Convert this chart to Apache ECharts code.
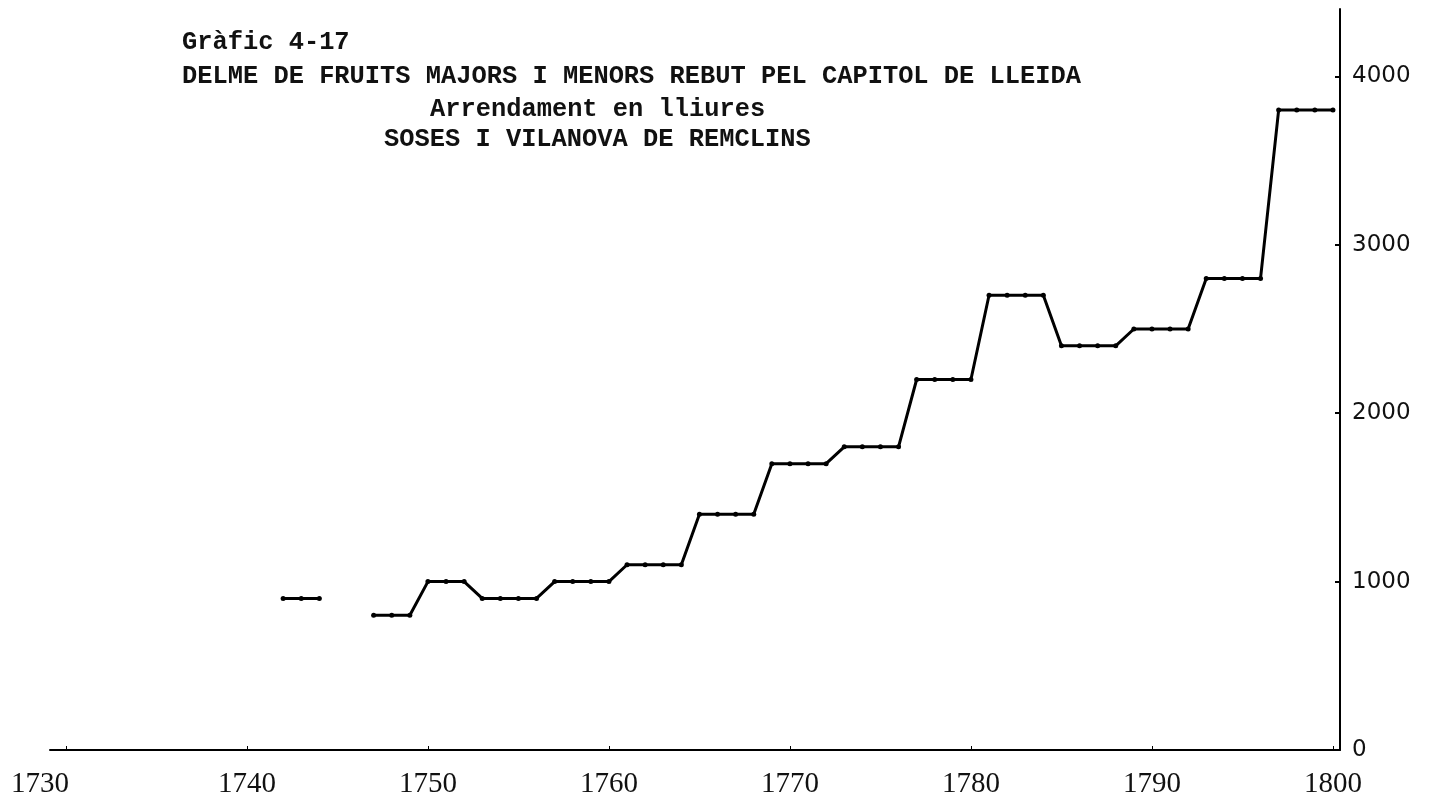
<!DOCTYPE html>
<html>
<head>
<meta charset="utf-8">
<script src="https://cdn.jsdelivr.net/npm/echarts@6/dist/echarts.min.js"></script>
<style>
html,body{margin:0;padding:0;background:#fff;}
#chart{width:1443px;height:800px;}
</style>
</head>
<body>
<div id="chart"></div>
<script>
// ---- data ----
const titleLines = [
  "Gràfic 4-17",
  "DELME DE FRUITS MAJORS I MENORS REBUT PEL CAPITOL DE LLEIDA",
  "Arrendament en lliures",
  "SOSES I VILANOVA DE REMCLINS"
];
const xTickYears = [1730, 1740, 1750, 1760, 1770, 1780, 1790, 1800];
const yTickValues = [0, 1000, 2000, 3000, 4000];
const years = [1742,1743,1744,1745,1746,1747,1748,1749,1750,1751,1752,
  1753,1754,1755,1756,1757,1758,1759,1760,1761,1762,1763,1764,
  1765,1766,1767,1768,1769,1770,1771,1772,1773,1774,1775,1776,
  1777,1778,1779,1780,1781,1782,1783,1784,1785,1786,1787,1788,
  1789,1790,1791,1792,1793,1794,1795,1796,1797,1798,1799,1800];
const rentValues = [900,900,900,null,null,800,800,800,1000,1000,1000,
  900,900,900,900,1000,1000,1000,1000,1100,1100,1100,1100,
  1400,1400,1400,1400,1700,1700,1700,1700,1800,1800,1800,1800,
  2200,2200,2200,2200,2700,2700,2700,2700,2400,2400,2400,2400,
  2500,2500,2500,2500,2800,2800,2800,2800,3800,3800,3800,3800];

const seriesData = years.map((y, i) => [y, rentValues[i]]);

const chart = echarts.init(document.getElementById('chart'), null, {renderer: 'canvas'});
const monoFont = '"Liberation Mono", "DejaVu Sans Mono", monospace';
const titleFont = 'bold 25.4px ' + monoFont;

const option = {
  backgroundColor: '#ffffff',
  animation: false,
  grid: {left: 50, right: 103, top: 9, bottom: 50, containLabel: false},
  graphic: [
    {type: 'text', left: 182, top: 30, style: {text: titleLines[0], font: titleFont, fill: '#111'}},
    {type: 'text', left: 182, top: 64, style: {text: titleLines[1], font: titleFont, fill: '#111'}},
    {type: 'text', left: 430, top: 97, style: {text: titleLines[2], font: titleFont, fill: '#111'}},
    {type: 'text', left: 384, top: 127, style: {text: titleLines[3], font: titleFont, fill: '#111'}}
  ],
  xAxis: {
    type: 'value',
    min: 1729.12,
    max: 1800.39,
    splitLine: {show: false},
    axisLine: {show: true, onZero: false, lineStyle: {color: '#000', width: 2}},
    axisTick: {show: true, inside: true, length: 4, customValues: xTickYears, lineStyle: {color: '#000', width: 1}},
    axisLabel: {
      customValues: xTickYears,
      color: '#111',
      fontFamily: '"Liberation Serif", "DejaVu Serif", serif',
      fontSize: 29,
      margin: 20,
      formatter: v => {
        const y = Math.round(v);
        return y === 1730 ? '{shift|' + y + '}' : String(y);
      },
      rich: {
        shift: {
          fontFamily: '"Liberation Serif", "DejaVu Serif", serif',
          fontSize: 29,
          color: '#111',
          padding: [0, 52, 0, 0]
        }
      }
    }
  },
  yAxis: {
    type: 'value',
    position: 'right',
    min: 0,
    max: 4400,
    splitLine: {show: false},
    axisLine: {show: true, lineStyle: {color: '#000', width: 2}},
    axisTick: {show: true, inside: true, length: 5, customValues: yTickValues, lineStyle: {color: '#000', width: 2}},
    axisLabel: {
      customValues: yTickValues,
      color: '#111',
      fontFamily: '"DejaVu Sans", sans-serif',
      fontSize: 23,
      margin: 12,
      formatter: v => String(Math.round(v))
    }
  },
  series: [{
    type: 'line',
    data: seriesData,
    connectNulls: false,
    symbol: 'circle',
    symbolSize: 5,
    showSymbol: true,
    lineStyle: {color: '#000', width: 3},
    itemStyle: {color: '#000'}
  }]
};
chart.setOption(option);
</script>
</body>
</html>
